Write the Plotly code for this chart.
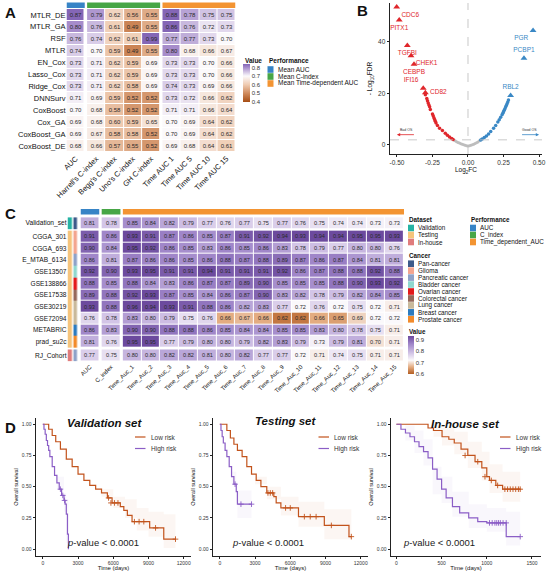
import plotly.graph_objects as go

FONT = "Liberation Sans, Arial, sans-serif"
W, H = 546, 571

# ---------------- panel A: model comparison heatmap ----------------
A_ROWS = ["MTLR_DE", "MTLR_GA", "RSF", "MTLR", "EN_Cox", "Lasso_Cox", "Ridge_Cox",
          "DNNSurv", "CoxBoost", "Cox_GA", "CoxBoost_GA", "CoxBoost_DE"]
A_COLS = ["AUC", "Harrell's C-index", "Begg's C-index", "Uno's C-index", "GH C-index",
          "Time AUC 1", "Time AUC 5", "Time AUC 10", "Time AUC 15"]
A_COL_GROUP = [0, 1, 1, 1, 1, 2, 2, 2, 2]
A_VALUES = [
    [0.87, 0.79, 0.62, 0.56, 0.55, 0.88, 0.78, 0.75, 0.75],
    [0.80, 0.76, 0.61, 0.49, 0.55, 0.86, 0.76, 0.72, 0.73],
    [0.76, 0.74, 0.62, 0.61, 0.99, 0.77, 0.77, 0.73, 0.70],
    [0.74, 0.70, 0.59, 0.49, 0.55, 0.80, 0.68, 0.66, 0.67],
    [0.73, 0.71, 0.62, 0.59, 0.69, 0.73, 0.73, 0.70, 0.66],
    [0.73, 0.71, 0.62, 0.59, 0.69, 0.73, 0.73, 0.70, 0.66],
    [0.73, 0.71, 0.62, 0.58, 0.69, 0.74, 0.73, 0.69, 0.66],
    [0.71, 0.69, 0.59, 0.52, 0.52, 0.73, 0.72, 0.66, 0.62],
    [0.70, 0.68, 0.58, 0.52, 0.52, 0.71, 0.71, 0.66, 0.64],
    [0.69, 0.68, 0.60, 0.59, 0.65, 0.70, 0.69, 0.64, 0.62],
    [0.69, 0.67, 0.58, 0.58, 0.52, 0.70, 0.69, 0.64, 0.62],
    [0.68, 0.66, 0.57, 0.55, 0.52, 0.69, 0.68, 0.64, 0.61],
]
A_PERF_LABELS = ["Mean AUC", "Mean C-index", "Mean Time-dependent AUC"]
PERF_COLORS = ["#3784c6", "#47a646", "#f39432"]

# ---------------- panel B: volcano ----------------
RED_X = [-0.30, -0.29, -0.285, -0.28, -0.275, -0.27, -0.265, -0.25, -0.245, -0.24, -0.235,
         -0.23, -0.225, -0.215, -0.20, -0.18, -0.16, -0.145, -0.13, -0.115, -0.105]
RED_Y = [19.5, 18.0, 17.2, 16.3, 15.5, 14.8, 13.8, 12.0, 11.3, 10.6, 9.9,
         9.2, 8.5, 7.6, 6.5, 5.6, 4.6, 3.8, 3.1, 2.5, 2.1]
GREY_X = [-0.10, -0.09, -0.08, -0.07, -0.06, -0.05, -0.04, -0.03, -0.02, -0.01, 0.0,
          0.01, 0.02, 0.03, 0.04, 0.05, 0.06, 0.07, 0.08]
GREY_Y = [1.9, 1.6, 1.3, 1.0, 0.8, 0.5, 0.3, 0.1, -0.1, -0.3, -0.4,
          -0.3, -0.1, 0.1, 0.3, 0.6, 0.9, 1.2, 1.6]
BLUE_X = [0.09, 0.10, 0.115, 0.13, 0.145, 0.16, 0.18, 0.195, 0.21, 0.22, 0.23, 0.24,
          0.245, 0.25, 0.255, 0.26, 0.265, 0.27, 0.275, 0.28, 0.285]
BLUE_Y = [1.9, 2.3, 2.9, 3.5, 4.3, 5.2, 6.5, 7.6, 8.9, 9.8, 10.8, 11.7,
          12.3, 12.9, 13.5, 14.1, 14.7, 15.3, 16.0, 16.7, 17.5]
DOWN_GENES = ["CDC6", "PITX1", "TGFBI", "CHEK1", "CEBPB", "IFI16", "CD82"]
DOWN_X = [-0.502, -0.484, -0.427, -0.401, -0.380, -0.315, -0.300]
DOWN_Y = [53.5, 48.5, 38.6, 34.6, 31.3, 22.0, 20.3]
DOWN_POS = ["bottom right", "bottom center", "bottom center", "bottom right",
            "bottom center", "top left", "middle right"]
UP_GENES = ["PGR", "PCBP1", "RBL2"]
UP_X = [0.458, 0.394, 0.300]
UP_Y = [44.4, 33.7, 19.2]
UP_POS = ["bottom left", "top center", "top center"]
RED, BLUE, GREY = "#e0262b", "#3a88c5", "#bdbdbd"

# ---------------- panel C: per-dataset heatmap ----------------
C_ROWS = ["Validation_set", "CGGA_301", "CGGA_693", "E_MTAB_6134", "GSE13507", "GSE138866",
          "GSE17538", "GSE30219", "GSE72094", "METABRIC", "prad_su2c", "RJ_Cohort"]
C_ROW_GROUP = [0, 1, 1, 1, 1, 1, 1, 1, 1, 1, 1, 2]
C_COLS = ["AUC", "C_index"] + ["Time_Auc_%d" % i for i in range(1, 16)]
C_COL_GROUP = [0, 1] + [2] * 15
C_VALUES = [
    [0.81, 0.78, 0.85, 0.84, 0.82, 0.79, 0.77, 0.76, 0.77, 0.75, 0.77, 0.76, 0.75, 0.74, 0.74, 0.73, 0.73],
    [0.91, 0.86, 0.93, 0.91, 0.87, 0.86, 0.85, 0.87, 0.91, 0.92, 0.94, 0.93, 0.94, 0.94, 0.95, 0.95, 0.93],
    [0.90, 0.84, 0.95, 0.92, 0.86, 0.85, 0.83, 0.86, 0.85, 0.86, 0.83, 0.78, 0.79, 0.77, 0.80, 0.80, 0.76],
    [0.86, 0.81, 0.87, 0.86, 0.86, 0.85, 0.86, 0.88, 0.87, 0.88, 0.89, 0.87, 0.86, 0.87, 0.84, 0.81, 0.81],
    [0.92, 0.90, 0.93, 0.95, 0.91, 0.91, 0.94, 0.91, 0.91, 0.91, 0.92, 0.86, 0.87, 0.88, 0.88, 0.92, 0.88],
    [0.88, 0.85, 0.88, 0.84, 0.83, 0.86, 0.87, 0.87, 0.89, 0.90, 0.85, 0.85, 0.85, 0.88, 0.90, 0.93, 0.92],
    [0.89, 0.88, 0.92, 0.93, 0.87, 0.85, 0.84, 0.86, 0.87, 0.90, 0.83, 0.82, 0.78, 0.79, 0.82, 0.84, 0.85],
    [0.93, 0.88, 0.96, 0.94, 0.93, 0.91, 0.88, 0.86, 0.82, 0.83, 0.77, 0.72, 0.76, 0.72, 0.75, 0.72, 0.71],
    [0.76, 0.78, 0.83, 0.80, 0.79, 0.75, 0.76, 0.66, 0.67, 0.66, 0.62, 0.62, 0.66, 0.65, 0.69, 0.72, 0.72],
    [0.86, 0.83, 0.90, 0.90, 0.88, 0.88, 0.86, 0.85, 0.84, 0.84, 0.85, 0.85, 0.83, 0.80, 0.78, 0.75, 0.71],
    [0.81, 0.76, 0.95, 0.95, 0.77, 0.79, 0.80, 0.80, 0.79, 0.82, 0.83, 0.79, 0.73, 0.79, 0.81, 0.70, 0.71],
    [0.77, 0.75, 0.80, 0.80, 0.82, 0.82, 0.81, 0.80, 0.82, 0.77, 0.77, 0.72, 0.71, 0.74, 0.75, 0.71, 0.71],
]
DATASETS = ["Validation", "Testing", "In-house"]
DATASET_COLORS = ["#25b3a4", "#f5c47c", "#e07c7c"]
CANCERS = ["Pan-cancer", "Glioma", "Pancreatic cancer", "Bladder cancer", "Ovarian cancer",
           "Colorectal cancer", "Lung cancer", "Breast cancer", "Prostate cancer"]
CANCER_COLORS = ["#3c5a8a", "#f3a58f", "#8ea2c8", "#8fd8cf", "#e31a1c",
                 "#96695b", "#c9b99b", "#2c7bbf", "#f28b2b"]
C_ROW_DATASET = ["Validation"] + ["Testing"] * 10 + ["In-house"]
C_ROW_CANCER = ["Pan-cancer", "Glioma", "Glioma", "Pancreatic cancer", "Bladder cancer",
                "Ovarian cancer", "Colorectal cancer", "Lung cancer", "Lung cancer",
                "Breast cancer", "Prostate cancer", "Pancreatic cancer"]
C_PERF_LABELS = ["AUC", "C_index", "Time_dependent_AUC"]

# ---------------- panel D: Kaplan-Meier ----------------
VAL_LOW_T = [0, 300, 500, 800, 1100, 1500, 2000, 2500, 3000, 3500, 4000, 4500, 5000, 5500,
             5900, 6300, 6600, 6900, 7200, 7600, 8800, 9100, 10200, 10300, 11300]
VAL_LOW_S = [1.0, 1.0, 0.96, 0.91, 0.86, 0.80, 0.72, 0.66, 0.60, 0.55, 0.51, 0.48, 0.45, 0.41,
             0.37, 0.37, 0.34, 0.31, 0.27, 0.22, 0.22, 0.17, 0.17, 0.08, 0.08]
VAL_HIGH_T = [0, 100, 200, 300, 400, 500, 600, 800, 1000, 1200, 1400, 1600, 1800, 1900, 2000, 2100, 2180]
VAL_HIGH_S = [1.0, 0.96, 0.92, 0.87, 0.83, 0.79, 0.74, 0.66, 0.59, 0.53, 0.48, 0.43, 0.39, 0.36, 0.28, 0.12, 0.0]
VAL_LOW_CENS_T = [5600, 5800, 6100, 6400, 7800, 8200, 8600, 9600, 11300]
VAL_LOW_CENS_S = [0.41, 0.37, 0.37, 0.37, 0.22, 0.22, 0.22, 0.17, 0.08]
VAL_HIGH_CENS_T = [1500, 1700, 1850]
VAL_HIGH_CENS_S = [0.48, 0.43, 0.39]

TEST_LOW_T = [0, 300, 600, 900, 1200, 1500, 1900, 2300, 2700, 3100, 3500, 4000, 4600, 4800,
              5200, 6700, 8900, 11000, 11200]
TEST_LOW_S = [1.0, 1.0, 0.95, 0.89, 0.84, 0.79, 0.74, 0.66, 0.60, 0.55, 0.50, 0.45, 0.42, 0.37,
              0.33, 0.26, 0.19, 0.10, 0.10]
TEST_HIGH_T = [0, 100, 200, 300, 450, 600, 800, 1000, 1200, 1400, 1500, 2700]
TEST_HIGH_S = [1.0, 0.95, 0.90, 0.85, 0.79, 0.74, 0.66, 0.58, 0.52, 0.46, 0.36, 0.36]
TEST_LOW_CENS_T = [4100, 4300, 4500, 5600, 6000, 7200, 7700, 8200, 9500, 11200]
TEST_LOW_CENS_S = [0.45, 0.45, 0.45, 0.33, 0.33, 0.26, 0.26, 0.26, 0.19, 0.10]
TEST_HIGH_CENS_T = [1300, 1800, 2700]
TEST_HIGH_CENS_S = [0.52, 0.36, 0.36]

HOUSE_LOW_T = [0, 295, 350, 410, 505, 580, 640, 715, 790, 870, 945, 1000, 1030, 1100, 1175, 1370]
HOUSE_LOW_S = [1.0, 1.0, 0.97, 0.95, 0.90, 0.88, 0.85, 0.80, 0.75, 0.70, 0.65, 0.58, 0.55, 0.51, 0.48, 0.48]
HOUSE_HIGH_T = [0, 50, 100, 150, 200, 250, 300, 350, 400, 450, 500, 550, 620, 700, 800, 900, 1000, 1215, 1370]
HOUSE_HIGH_S = [1.0, 0.96, 0.93, 0.90, 0.86, 0.82, 0.78, 0.73, 0.64, 0.56, 0.48, 0.41, 0.34,
                0.29, 0.25, 0.22, 0.21, 0.10, 0.10]
HOUSE_LOW_CENS_T = [760, 900, 980, 1050, 1120, 1200, 1230, 1260, 1290, 1320, 1350, 1370]
HOUSE_LOW_CENS_S = [0.75, 0.70, 0.58, 0.55, 0.51, 0.48, 0.48, 0.48, 0.48, 0.48, 0.48, 0.48]
HOUSE_HIGH_CENS_T = [1030, 1060, 1090, 1110, 1130, 1150, 1180, 1215, 1370]
HOUSE_HIGH_CENS_S = [0.21, 0.21, 0.21, 0.21, 0.21, 0.21, 0.21, 0.21, 0.10]

# confidence bands (read roughly)
VAL_LOW_BAND_T = [5000, 6000, 7000, 8000, 9000, 10300, 11300]
VAL_LOW_BAND_LO = [0.42, 0.33, 0.25, 0.15, 0.10, 0.01, 0.01]
VAL_LOW_BAND_HI = [0.48, 0.42, 0.40, 0.33, 0.30, 0.28, 0.28]
VAL_HIGH_BAND_T = [1200, 1800, 2000, 2180]
VAL_HIGH_BAND_LO = [0.48, 0.30, 0.05, 0.0]
VAL_HIGH_BAND_HI = [0.58, 0.45, 0.40, 0.30]
TEST_LOW_BAND_T = [3000, 4000, 5200, 6700, 8900, 11200]
TEST_LOW_BAND_LO = [0.52, 0.40, 0.27, 0.18, 0.08, 0.0]
TEST_LOW_BAND_HI = [0.58, 0.50, 0.42, 0.38, 0.32, 0.30]
TEST_HIGH_BAND_T = [1000, 1400, 1500, 2700]
TEST_HIGH_BAND_LO = [0.52, 0.38, 0.25, 0.25]
TEST_HIGH_BAND_HI = [0.62, 0.54, 0.47, 0.47]
HOUSE_LOW_BAND_T = [0, 295, 410, 505, 640, 790, 945, 1030, 1175, 1370]
HOUSE_LOW_BAND_LO = [1.0, 1.0, 0.90, 0.83, 0.76, 0.65, 0.55, 0.45, 0.38, 0.38]
HOUSE_LOW_BAND_HI = [1.0, 1.0, 1.0, 0.97, 0.94, 0.86, 0.78, 0.68, 0.62, 0.62]
HOUSE_HIGH_BAND_T = [0, 100, 200, 300, 400, 500, 620, 800, 1000, 1215, 1370]
HOUSE_HIGH_BAND_LO = [1.0, 0.87, 0.77, 0.67, 0.44, 0.37, 0.26, 0.17, 0.14, 0.03, 0.03]
HOUSE_HIGH_BAND_HI = [1.0, 0.99, 0.95, 0.88, 0.66, 0.58, 0.46, 0.36, 0.33, 0.30, 0.30]

LOW_COLOR, HIGH_COLOR = "#c2531c", "#8b5ec6"


def fx(x):
    return x / W


def fy(y):
    return 1 - y / H


def dom_x(a, b):
    return [a / W, b / W]


def dom_y(top, bottom):
    return [1 - bottom / H, 1 - top / H]


def positions(groups, gap):
    return [j + gap * g for j, g in enumerate(groups)]


fig = go.Figure()
annotations = []
shapes = []


def text(x, y, s, size=7, anchor="left", bold=False, color="#111", italic=False):
    if bold:
        s = "<b>%s</b>" % s
    if italic:
        s = "<i>%s</i>" % s
    annotations.append(dict(x=fx(x), y=fy(y), xref="paper", yref="paper", text=s,
                            showarrow=False, xanchor=anchor, yanchor="middle",
                            font=dict(size=size, color=color, family=FONT)))


def swatch(x0, y0, x1, y1, color):
    shapes.append(dict(type="rect", xref="paper", yref="paper", x0=fx(x0), x1=fx(x1),
                       y0=fy(y1), y1=fy(y0), fillcolor=color, line=dict(width=0)))


# ---- A heatmap
a_pos = positions(A_COL_GROUP, 0.13)
for g in range(3):
    idx = [j for j in range(len(A_COLS)) if A_COL_GROUP[j] == g]
    fig.add_trace(go.Heatmap(
        x=[a_pos[j] for j in idx], y=list(range(len(A_ROWS))),
        z=[[row[j] for j in idx] for row in A_VALUES],
        coloraxis="coloraxis", xgap=1, ygap=1,
        texttemplate="%{z:.2f}", textfont=dict(size=6, color="#2a2a2a", family=FONT),
        hoverinfo="skip", xaxis="x", yaxis="y"))
    shapes.append(dict(type="rect", xref="x", yref="paper",
                       x0=a_pos[idx[0]] - 0.5, x1=a_pos[idx[-1]] + 0.5,
                       y0=fy(8), y1=fy(2.5), fillcolor=PERF_COLORS[g], line=dict(width=0)))

# ---- B volcano
fig.add_trace(go.Scatter(x=GREY_X, y=GREY_Y, mode="markers", xaxis="x2", yaxis="y2",
                         marker=dict(size=3, color=GREY), hoverinfo="skip"))
fig.add_trace(go.Scatter(x=RED_X, y=RED_Y, mode="markers", xaxis="x2", yaxis="y2",
                         marker=dict(size=3.5, color=RED), hoverinfo="skip"))
fig.add_trace(go.Scatter(x=BLUE_X, y=BLUE_Y, mode="markers", xaxis="x2", yaxis="y2",
                         marker=dict(size=3.5, color=BLUE), hoverinfo="skip"))
fig.add_trace(go.Scatter(x=DOWN_X, y=DOWN_Y, mode="markers+text", text=DOWN_GENES,
                         textposition=DOWN_POS, xaxis="x2", yaxis="y2", cliponaxis=False,
                         textfont=dict(size=6.5, color=RED, family=FONT),
                         marker=dict(size=6, color=RED, symbol="triangle-up"), hoverinfo="skip"))
fig.add_trace(go.Scatter(x=UP_X, y=UP_Y, mode="markers+text", text=UP_GENES,
                         textposition=UP_POS, xaxis="x2", yaxis="y2", cliponaxis=False,
                         textfont=dict(size=6.5, color=BLUE, family=FONT),
                         marker=dict(size=6, color=BLUE, symbol="triangle-up"), hoverinfo="skip"))
shapes.append(dict(type="line", xref="x2", yref="y2 domain", x0=0, x1=0, y0=0, y1=1,
                   line=dict(color="#bbbbbb", width=0.8, dash="dash")))
shapes.append(dict(type="line", xref="x2 domain", yref="y2", x0=0, x1=1, y0=2, y1=2,
                   line=dict(color="#bbbbbb", width=0.8, dash="dash")))
for head, tail, lab, col in [(-0.50, -0.37, "Bad OS", RED), (0.50, 0.37, "Good OS", BLUE)]:
    annotations.append(dict(x=head, y=4, ax=tail, ay=4, xref="x2", yref="y2", axref="x2",
                            ayref="y2", text="", showarrow=True, arrowhead=2, arrowsize=0.8,
                            arrowwidth=0.8, arrowcolor=col))
    annotations.append(dict(x=(head + tail) / 2, y=5.8, xref="x2", yref="y2", text=lab,
                            showarrow=False, font=dict(size=3.5, color="#333", family=FONT)))

# ---- C heatmap
c_xpos = positions(C_COL_GROUP, 0.13)
c_ypos = [i + 0.15 * g for i, g in enumerate(C_ROW_GROUP)]
strip_colors = DATASET_COLORS + CANCER_COLORS
n_codes = len(strip_colors)
strip_scale = []
for k, c in enumerate(strip_colors):
    strip_scale += [[k / n_codes, c], [(k + 1) / n_codes, c]]
for rg in range(3):
    ridx = [i for i in range(len(C_ROWS)) if C_ROW_GROUP[i] == rg]
    for cg in range(3):
        cidx = [j for j in range(len(C_COLS)) if C_COL_GROUP[j] == cg]
        fig.add_trace(go.Heatmap(
            x=[c_xpos[j] for j in cidx], y=[c_ypos[i] for i in ridx],
            z=[[C_VALUES[i][j] for j in cidx] for i in ridx],
            coloraxis="coloraxis2", xgap=1, ygap=1,
            texttemplate="%{z:.2f}", textfont=dict(size=5.6, color="#2a2a2a", family=FONT),
            hoverinfo="skip", xaxis="x3", yaxis="y3"))
    fig.add_trace(go.Heatmap(
        x=[0, 1], y=[c_ypos[i] for i in ridx],
        z=[[DATASETS.index(C_ROW_DATASET[i]), len(DATASETS) + CANCERS.index(C_ROW_CANCER[i])]
           for i in ridx],
        zmin=-0.5, zmax=n_codes - 0.5, colorscale=strip_scale, showscale=False,
        xgap=1.5, ygap=0, hoverinfo="skip", xaxis="x4", yaxis="y4"))
for cg in range(3):
    cidx = [j for j in range(len(C_COLS)) if C_COL_GROUP[j] == cg]
    shapes.append(dict(type="rect", xref="x3", yref="paper",
                       x0=c_xpos[cidx[0]] - 0.5, x1=c_xpos[cidx[-1]] + 0.5,
                       y0=fy(214.5), y1=fy(209), fillcolor=PERF_COLORS[cg], line=dict(width=0)))

# ---- D Kaplan-Meier
km_sets = [
    ("x5", "y5", VAL_LOW_T, VAL_LOW_S, VAL_HIGH_T, VAL_HIGH_S,
     VAL_LOW_CENS_T, VAL_LOW_CENS_S, VAL_HIGH_CENS_T, VAL_HIGH_CENS_S,
     (VAL_LOW_BAND_T, VAL_LOW_BAND_LO, VAL_LOW_BAND_HI),
     (VAL_HIGH_BAND_T, VAL_HIGH_BAND_LO, VAL_HIGH_BAND_HI)),
    ("x6", "y6", TEST_LOW_T, TEST_LOW_S, TEST_HIGH_T, TEST_HIGH_S,
     TEST_LOW_CENS_T, TEST_LOW_CENS_S, TEST_HIGH_CENS_T, TEST_HIGH_CENS_S,
     (TEST_LOW_BAND_T, TEST_LOW_BAND_LO, TEST_LOW_BAND_HI),
     (TEST_HIGH_BAND_T, TEST_HIGH_BAND_LO, TEST_HIGH_BAND_HI)),
    ("x7", "y7", HOUSE_LOW_T, HOUSE_LOW_S, HOUSE_HIGH_T, HOUSE_HIGH_S,
     HOUSE_LOW_CENS_T, HOUSE_LOW_CENS_S, HOUSE_HIGH_CENS_T, HOUSE_HIGH_CENS_S,
     (HOUSE_LOW_BAND_T, HOUSE_LOW_BAND_LO, HOUSE_LOW_BAND_HI),
     (HOUSE_HIGH_BAND_T, HOUSE_HIGH_BAND_LO, HOUSE_HIGH_BAND_HI)),
]
for (xa, ya, lt, ls, ht, hs, lct, lcs, hct, hcs, lband, hband) in km_sets:
    for band, fill in [(lband, "rgba(194,83,28,0.05)"), (hband, "rgba(139,94,198,0.05)")]:
        bt, blo, bhi = band
        fig.add_trace(go.Scatter(x=bt, y=blo, mode="lines", line=dict(width=0, shape="hv"),
                                 xaxis=xa, yaxis=ya, hoverinfo="skip"))
        fig.add_trace(go.Scatter(x=bt, y=bhi, mode="lines", line=dict(width=0, shape="hv"),
                                 fill="tonexty", fillcolor=fill, xaxis=xa, yaxis=ya,
                                 hoverinfo="skip"))
    for t, s, ct, cs, col in [(lt, ls, lct, lcs, LOW_COLOR), (ht, hs, hct, hcs, HIGH_COLOR)]:
        fig.add_trace(go.Scatter(x=t, y=s, mode="lines", line=dict(color=col, width=1.2, shape="hv"),
                                 xaxis=xa, yaxis=ya, hoverinfo="skip"))
        fig.add_trace(go.Scatter(x=ct, y=cs, mode="markers", xaxis=xa, yaxis=ya, hoverinfo="skip",
                                 marker=dict(symbol="cross-thin", size=4, color=col,
                                             line=dict(color=col, width=0.9))))

# ---------------- layout ----------------
base_font = dict(family=FONT, color="#111")
heat_axis = dict(showgrid=False, zeroline=False, showline=False, ticks="", ticklen=0,
                 automargin=False)
km_axis = dict(showgrid=False, zeroline=False, showline=True, linecolor="#222", linewidth=0.8,
               ticks="outside", ticklen=2.5, tickwidth=0.6, tickcolor="#222", automargin=False,
               tickfont=dict(size=5, family=FONT, color="#333"))

layout = dict(
    width=W, height=H, margin=dict(l=0, r=0, t=0, b=0, autoexpand=False),
    paper_bgcolor="white", plot_bgcolor="white", showlegend=False, font=base_font,
    xaxis=dict(heat_axis, domain=dom_x(66.5, 235.5), range=[-0.5, a_pos[-1] + 0.5],
               tickvals=a_pos, ticktext=A_COLS, tickangle=-45,
               tickfont=dict(size=7.5, family=FONT, color="#111"), anchor="y"),
    yaxis=dict(heat_axis, domain=dom_y(9, 152), range=[len(A_ROWS) - 0.5, -0.5],
               tickvals=list(range(len(A_ROWS))), ticktext=A_ROWS,
               tickfont=dict(size=7.5, family=FONT, color="#111"), anchor="x"),
    xaxis2=dict(km_axis, domain=dom_x(390, 542), range=[-0.549, 0.521], anchor="y2",
                tickvals=[-0.5, -0.25, 0, 0.25, 0.5],
                ticktext=["-0.50", "-0.25", "0.00", "0.25", "0.50"],
                tickfont=dict(size=6.5, family=FONT, color="#333"),
                title=dict(text="Log<sub>2</sub>FC", font=dict(size=6.5, family=FONT), standoff=2)),
    yaxis2=dict(km_axis, domain=dom_y(3, 154), range=[-3.5, 55.1], anchor="x2",
                tickvals=[0, 20, 40], tickfont=dict(size=6.5, family=FONT, color="#333"),
                title=dict(text="- Log<sub>10</sub>FDR", font=dict(size=6.5, family=FONT), standoff=4)),
    xaxis3=dict(heat_axis, domain=dom_x(80.5, 404), range=[-0.5, c_xpos[-1] + 0.5],
                tickvals=c_xpos, ticktext=C_COLS, tickangle=-45,
                tickfont=dict(size=6, family=FONT, color="#111"), anchor="y3"),
    yaxis3=dict(heat_axis, domain=dom_y(217.2, 361.2), range=[c_ypos[-1] + 0.5, -0.5],
                showticklabels=False, anchor="x3"),
    xaxis4=dict(heat_axis, domain=dom_x(67.5, 78.5), range=[-0.5, 1.5], showticklabels=False,
                anchor="y4"),
    yaxis4=dict(heat_axis, domain=dom_y(217.2, 361.2), range=[c_ypos[-1] + 0.5, -0.5],
                tickvals=c_ypos, ticktext=C_ROWS, anchor="x4",
                tickfont=dict(size=6.6, family=FONT, color="#111")),
    coloraxis=dict(cmin=0.4, cmax=0.84,
                   colorscale=[[0.0, "#a64d14"], [0.227, "#cf8a5c"], [0.4545, "#efcbb1"],
                               [0.682, "#fbf9fb"], [0.909, "#a68ccb"], [1.0, "#8466b6"]],
                   colorbar=dict(lenmode="pixels", len=38, thicknessmode="pixels", thickness=7,
                                 x=fx(243), xanchor="left", y=fy(64), yanchor="top",
                                 xpad=0, ypad=0, outlinewidth=0, ticks="",
                                 tickvals=[0.4, 0.5, 0.6, 0.7, 0.8],
                                 tickfont=dict(size=6, family=FONT, color="#333"))),
    coloraxis2=dict(cmin=0.6, cmax=0.93,
                    colorscale=[[0.0, "#b35d22"], [0.18, "#e3ab80"], [0.36, "#fbf9fb"],
                                [0.55, "#d2c4e6"], [0.8, "#9d83c8"], [1.0, "#6c4a9e"]],
                    colorbar=dict(lenmode="pixels", len=38, thicknessmode="pixels", thickness=6,
                                  x=fx(408), xanchor="left", y=fy(336), yanchor="top",
                                  xpad=0, ypad=0, outlinewidth=0, ticks="",
                                  tickvals=[0.6, 0.7, 0.8, 0.9],
                                  tickfont=dict(size=6, family=FONT, color="#333"))),
)

km_domains = [(36, 191, [-580, 12620], [0, 3000, 6000, 9000, 12000]),
              (213, 368, [-580, 12620], [0, 3000, 6000, 9000, 12000]),
              (391, 541, [-60, 1600], [0, 500, 1000, 1500])]
for k, (a, b, rng, tv) in enumerate(km_domains):
    n = k + 5
    layout["xaxis%d" % n] = dict(km_axis, domain=dom_x(a, b), range=rng, tickvals=tv,
                                 ticktext=[str(v) for v in tv], anchor="y%d" % n,
                                 title=dict(text="Time (days)", font=dict(size=6, family=FONT),
                                            standoff=1))
    layout["yaxis%d" % n] = dict(km_axis, domain=dom_y(418, 556), range=[-0.055, 1.05],
                                 tickvals=[0, 0.25, 0.5, 0.75, 1.0],
                                 ticktext=["0.00", "0.25", "0.50", "0.75", "1.00"],
                                 anchor="x%d" % n,
                                 title=dict(text="Overall survival", font=dict(size=5.5, family=FONT),
                                            standoff=2))

# panel letters
text(3, 13, "A", size=15, bold=True)
text(355, 11, "B", size=15, bold=True)
text(3, 213, "C", size=15, bold=True)
text(3, 427, "D", size=15, bold=True)

# A legends
text(243, 61, "Value", size=6.5, bold=True)
text(267, 61, "Performance", size=6.5, bold=True)
for k, lab in enumerate(A_PERF_LABELS):
    yy = 69.5 + 7 * k
    swatch(267.5, yy - 3.3, 273.5, yy + 3.3, PERF_COLORS[k])
    text(275.5, yy, lab, size=6.5)

# C legends
text(407, 219, "Dataset", size=6.3, bold=True)
for k, lab in enumerate(DATASETS):
    yy = 228 + 7 * k
    swatch(408, yy - 3.3, 414, yy + 3.3, DATASET_COLORS[k])
    text(416, yy, lab, size=6.3)
text(469, 219, "Performance", size=6.3, bold=True)
for k, lab in enumerate(C_PERF_LABELS):
    yy = 228 + 7 * k
    swatch(470, yy - 3.3, 476, yy + 3.3, PERF_COLORS[k])
    text(478, yy, lab, size=6.3)
text(407, 255, "Cancer", size=6.3, bold=True)
for k, lab in enumerate(CANCERS):
    yy = 263.7 + 6.95 * k
    swatch(408, yy - 3.3, 414, yy + 3.3, CANCER_COLORS[k])
    text(416, yy, lab, size=6.3)
text(407, 331, "Value", size=6.3, bold=True)

# D titles, legends, p-values
for cx, cy, title, lx, px_x in [(105, 423, "Validation set", 135, 103),
                                 (285, 421, "Testing set", 318.5, 268),
                                 (465, 424, "In-house set", 500, 439)]:
    text(cx, cy, title, size=11.5, anchor="center", bold=True, italic=True)
    for k, (lab, col) in enumerate([("Low risk", LOW_COLOR), ("High risk", HIGH_COLOR)]):
        yy = 437 + 11.5 * k
        shapes.append(dict(type="line", xref="paper", yref="paper", x0=fx(lx), x1=fx(lx + 10.5),
                           y0=fy(yy), y1=fy(yy), line=dict(color=col, width=1.2)))
        text(lx + 13.5, yy, lab, size=6.5, color="#333")
    text(px_x, 542, "<i>p</i>-value < 0.0001", size=9.5, anchor="center", color="#222")

layout["annotations"] = annotations
layout["shapes"] = shapes
fig.update_layout(**layout)

fig.write_html("out.html", config={"displayModeBar": False},
               post_script="document.body.style.margin='0px';")
